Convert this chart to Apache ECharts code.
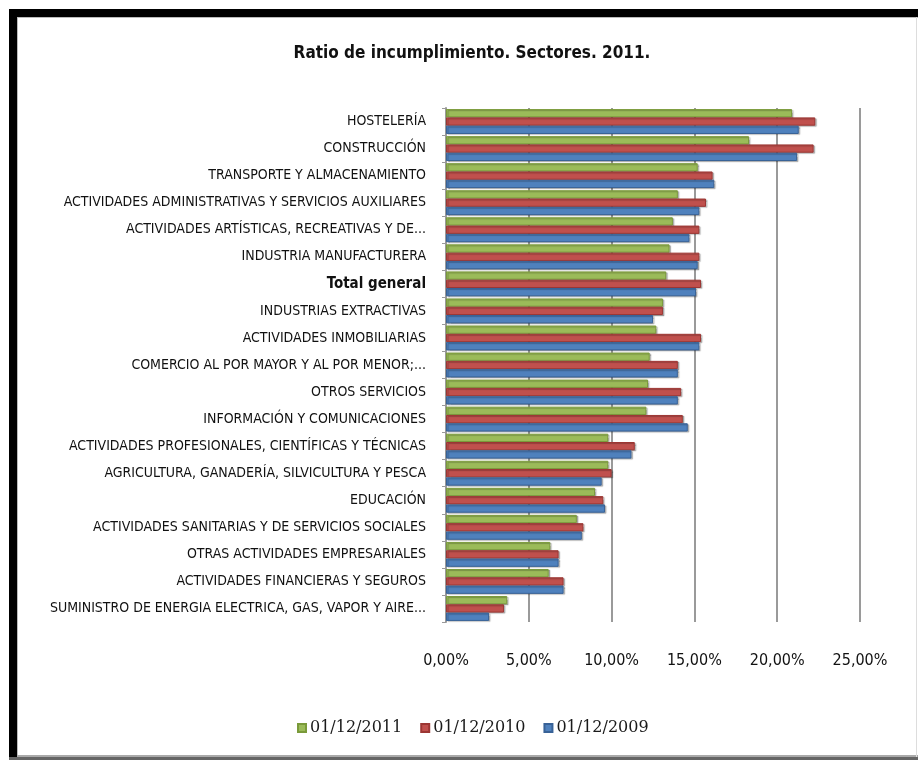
<!DOCTYPE html>
<html>
<head>
<meta charset="utf-8">
<script src="https://cdn.jsdelivr.net/npm/echarts@6/dist/echarts.min.js"></script>
<style>
html,body{margin:0;padding:0;background:#fff;}
#chart{width:918px;height:764px;}
</style>
</head>
<body>
<div id="chart"></div>
<script>
const categories = [
  'HOSTELERÍA',
  'CONSTRUCCIÓN',
  'TRANSPORTE Y ALMACENAMIENTO',
  'ACTIVIDADES ADMINISTRATIVAS Y SERVICIOS AUXILIARES',
  'ACTIVIDADES ARTÍSTICAS, RECREATIVAS Y DE...',
  'INDUSTRIA MANUFACTURERA',
  'Total general',
  'INDUSTRIAS EXTRACTIVAS',
  'ACTIVIDADES INMOBILIARIAS',
  'COMERCIO AL POR MAYOR Y AL POR MENOR;...',
  'OTROS SERVICIOS',
  'INFORMACIÓN Y COMUNICACIONES',
  'ACTIVIDADES PROFESIONALES, CIENTÍFICAS Y TÉCNICAS',
  'AGRICULTURA, GANADERÍA, SILVICULTURA Y PESCA',
  'EDUCACIÓN',
  'ACTIVIDADES SANITARIAS Y DE SERVICIOS SOCIALES',
  'OTRAS ACTIVIDADES EMPRESARIALES',
  'ACTIVIDADES FINANCIERAS Y SEGUROS',
  'SUMINISTRO DE ENERGIA ELECTRICA, GAS, VAPOR Y AIRE...'
];
const seriesNames = ['01/12/2011', '01/12/2010', '01/12/2009'];
const s2011 = [20.9, 18.3, 15.2, 14.0, 13.7, 13.5, 13.3, 13.1, 12.7, 12.3, 12.2, 12.1, 9.8, 9.8, 9.0, 7.9, 6.3, 6.2, 3.7];
const s2010 = [22.3, 22.2, 16.1, 15.7, 15.3, 15.3, 15.4, 13.1, 15.4, 14.0, 14.2, 14.3, 11.4, 10.0, 9.5, 8.3, 6.8, 7.1, 3.5];
const s2009 = [21.3, 21.2, 16.2, 15.3, 14.7, 15.2, 15.1, 12.5, 15.3, 14.0, 14.0, 14.6, 11.2, 9.4, 9.6, 8.2, 6.8, 7.1, 2.6];
const xTicks = [0, 5, 10, 15, 20, 25];

const colors = ['#9BBB59', '#C0504D', '#4F81BD'];
const borders = ['#7a9a3a', '#9c3633', '#386297'];
const narrow = '"Liberation Sans Narrow", "DejaVu Sans Condensed", "Roboto Condensed", sans-serif';

const chart = echarts.init(document.getElementById('chart'), null, {renderer: 'canvas'});
const allSeries = [s2011, s2010, s2009].map((d, i) => ({
  name: seriesNames[i],
  type: 'bar',
  data: d,
  barGap: '0%',
  barCategoryGap: '8%',
  itemStyle: {
    color: colors[i],
    borderColor: borders[i],
    borderWidth: 1,
    shadowColor: 'rgba(0,0,0,0.25)',
    shadowOffsetX: 1.5,
    shadowOffsetY: 1,
    shadowBlur: 1
  }
}));

chart.setOption({
  backgroundColor: '#fff',
  animation: false,
  title: {
    text: 'Ratio de incumplimiento. Sectores. 2011.',
    left: 467, top: 40, textAlign: 'center',
    textStyle: {fontFamily: narrow, fontSize: 17, fontWeight: 'bold', color: '#111'}
  },
  legend: {
    data: seriesNames,
    left: 292, top: 715,
    itemWidth: 8, itemHeight: 8, itemGap: 18,
    icon: 'rect',
    textStyle: {fontFamily: '"DejaVu Serif", "Liberation Serif", serif', fontSize: 16, color: '#1a1a1a', padding: [0,0,0,-1]}
  },
  graphic: [
    {type: 'rect', shape: {x: 9, y: 9, width: 909, height: 8}, style: {fill: '#000'}, silent: true, z: 100},
    {type: 'rect', shape: {x: 9, y: 9, width: 8, height: 749}, style: {fill: '#000'}, silent: true, z: 100},
    {type: 'rect', shape: {x: 17, y: 17, width: 901, height: 1}, style: {fill: '#bbb'}, silent: true, z: 100},
    {type: 'rect', shape: {x: 17, y: 17, width: 1, height: 740}, style: {fill: '#bbb'}, silent: true, z: 100},
    {type: 'rect', shape: {x: 17, y: 755, width: 901, height: 2}, style: {fill: '#aaa'}, silent: true, z: 100},
    {type: 'rect', shape: {x: 9, y: 757, width: 909, height: 3}, style: {fill: '#666'}, silent: true, z: 100},
    {type: 'rect', shape: {x: 916, y: 17, width: 1, height: 740}, style: {fill: '#ddd'}, silent: true, z: 100}
  ],
  grid: {left: 446, right: 58, top: 108, bottom: 142, containLabel: false},
  xAxis: {
    type: 'value', min: 0, max: 25, interval: 5,
    axisLine: {show: false},
    axisTick: {show: false},
    splitLine: {show: true, lineStyle: {color: '#9a9a9a', width: 2}},
    axisLabel: {
      margin: 31,
      fontFamily: narrow, fontSize: 16, color: '#111',
      formatter: v => xTicks.indexOf(v) >= 0 ? v.toFixed(2).replace('.', ',') + '%' : ''
    }
  },
  yAxis: {
    type: 'category', data: categories, inverse: true,
    axisLine: {show: true, lineStyle: {color: '#9a9a9a', width: 2}},
    axisTick: {show: true, length: 4, lineStyle: {color: '#9a9a9a'}},
    axisLabel: {
      margin: 20, fontFamily: narrow, fontSize: 14, color: '#111',
      formatter: v => v === 'Total general' ? '{b|' + v + '}' : v,
      rich: {b: {fontFamily: narrow, fontSize: 15, fontWeight: 'bold', color: '#111'}}
    }
  },
  series: allSeries
});
</script>
</body>
</html>
